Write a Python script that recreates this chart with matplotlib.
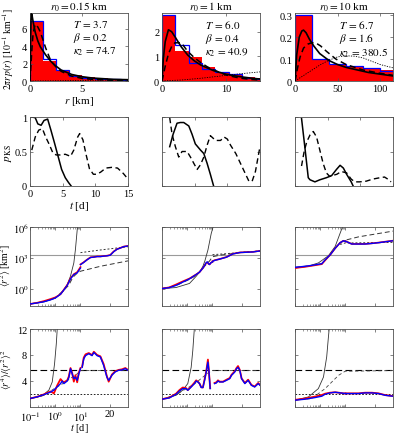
import numpy as np
import matplotlib
matplotlib.use('Agg')
import matplotlib.pyplot as plt
from matplotlib.ticker import FixedLocator, NullFormatter, FixedFormatter

plt.rcParams['font.family'] = ['Liberation Serif', 'DejaVu Serif']
plt.rcParams['mathtext.fontset'] = 'stix'
plt.rcParams['font.size'] = 7.5

# ---------------- data: row 1 (histograms of 2 pi r p(r)) ----------------
titles = ["$r_0 = 0.15$ km", "$r_0 = 1$ km", "$r_0 = 10$ km"]
param_T = ["3.7", "6.0", "6.7"]
param_beta = ["0.2", "0.4", "1.6"]
param_kappa = ["74.7", "40.9", "380.5"]

h1_edges = [0, 1.25, 2.5, 3.75, 5, 6.25, 7.5, 8.75, 10]
h1_red = [6.8, 2.3, 1.2, 0.67, 0.49, 0.30, 0.26, 0.19]
h1_blue = [6.9, 2.5, 1.27, 0.56, 0.37, 0.26, 0.19, 0.15]
h1_r_solid = [0, 0.05, 0.1, 0.15, 0.2, 0.3, 0.5, 0.75, 1, 1.5, 2, 2.5, 3, 4, 5, 6, 8, 9.4]
h1_solid = [0, 4.5, 7.0, 7.7, 7.5, 6.8, 5.6, 4.6, 3.9, 3.0, 2.25, 1.7, 1.25, 0.75, 0.49, 0.34, 0.19, 0.15]
h1_r_dash = [0, 0.1, 0.2, 0.3, 0.5, 0.75, 1, 1.5, 2, 2.5, 3, 4, 5, 6, 8, 9.4]
h1_dash = [0, 2.0, 4.0, 5.5, 6.5, 6.2, 5.6, 3.8, 2.3, 1.6, 1.1, 0.56, 0.3, 0.19, 0.07, 0.04]
h1_r_dot = [0, 2, 4, 6, 8, 9.4]
h1_dot = [0, 0.02, 0.05, 0.08, 0.11, 0.13]

h2_edges = [0, 2.07, 4.14, 6.21, 8.28, 10.35, 12.42, 14.49, 16.56]
h2_red = [2.66, 1.22, 0.97, 0.55, 0.34, 0.23, 0.18, 0.12]
h2_blue = [2.66, 1.45, 0.74, 0.48, 0.37, 0.28, 0.12, 0.09]
h2_r_solid = [0, 0.2, 0.5, 1, 1.5, 2, 3, 4, 5, 6, 8, 10, 12, 14, 15.2]
h2_solid = [0, 0.9, 1.6, 2.08, 2.0, 1.8, 1.38, 1.05, 0.82, 0.65, 0.42, 0.27, 0.18, 0.11, 0.08]
h2_r_dash = [0, 0.5, 1, 1.5, 2, 3, 4, 5, 6, 7, 8, 10, 12, 14, 15.2]
h2_dash = [0, 0.6, 1.1, 1.4, 1.55, 1.55, 1.2, 0.95, 0.75, 0.58, 0.45, 0.24, 0.12, 0.06, 0.04]
h2_r_dot = [0, 3, 6, 9, 12, 15.2]
h2_dot = [0, 0.04, 0.11, 0.2, 0.29, 0.37]

h3_edges = [0, 20, 40, 60, 80, 100, 120]
h3_red = [0.295, 0.098, 0.075, 0.07, 0.059, 0.05]
h3_blue = [0.303, 0.101, 0.076, 0.07, 0.059, 0.047]
h3_r_solid = [0, 2, 5, 8, 10, 13, 17, 22, 29, 40, 50, 60, 86, 115]
h3_solid = [0, 0.12, 0.2, 0.228, 0.232, 0.22, 0.19, 0.16, 0.125, 0.093, 0.075, 0.062, 0.039, 0.023]
h3_r_dash = [0, 3, 6, 10, 15, 20, 25, 30, 37, 48, 60, 80, 100, 115]
h3_dash = [0, 0.06, 0.11, 0.15, 0.168, 0.175, 0.172, 0.16, 0.135, 0.1, 0.075, 0.05, 0.035, 0.026]
h3_r_dot = [0, 10, 20, 30, 40, 50, 60, 70, 80, 90, 100, 115]
h3_dot = [0, 0.025, 0.05, 0.075, 0.095, 0.11, 0.115, 0.113, 0.105, 0.09, 0.075, 0.06]

# ---------------- data: row 2 (p_KS) ----------------
ks1_t_solid = [0.27, 0.8, 1.2, 1.7, 2.15, 2.7, 3.2, 3.76, 4.3, 4.84, 5.4, 5.9, 6.3]
ks1_solid = [1.0, 0.99, 0.9, 0.88, 0.95, 0.97, 0.81, 0.62, 0.43, 0.24, 0.12, 0.05, 0.0]
ks1_t_dash = [0.27, 0.8, 1.34, 1.9, 2.4, 2.96, 3.5, 4.0, 4.6, 5.4, 6.2, 6.7, 7.3, 7.6, 8.1,
              8.6, 9.1, 9.7, 10.2, 10.8, 11.6, 12.5, 13.4, 14.3, 15.0]
ks1_dash = [0.52, 0.71, 0.81, 0.83, 0.71, 0.6, 0.48, 0.45, 0.45, 0.46, 0.43, 0.52, 0.71, 0.76, 0.67,
            0.45, 0.25, 0.17, 0.17, 0.2, 0.26, 0.27, 0.26, 0.18, 0.1]

ks2_t_solid = [1.18, 1.7, 2.3, 2.8, 3.33, 4.1, 4.6, 5.1, 5.9, 6.4, 6.9, 7.4, 7.9]
ks2_solid = [0.57, 0.75, 0.91, 0.92, 0.92, 0.87, 0.75, 0.61, 0.52, 0.47, 0.33, 0.17, 0.0]
ks2_t_dash = [1.18, 1.54, 2.05, 2.56, 3.07, 3.84, 4.35, 4.86, 5.38, 5.9, 6.4, 6.9, 7.4, 8.2, 8.96,
              9.5, 10.0, 10.5, 11.3, 12.0, 12.8, 13.3, 13.8, 14.3, 14.8, 15.0]
ks2_dash = [0.99, 0.75, 0.57, 0.42, 0.5, 0.5, 0.42, 0.33, 0.24, 0.31, 0.42, 0.59, 0.73, 0.66, 0.66,
            0.71, 0.68, 0.59, 0.47, 0.33, 0.17, 0.07, 0.07, 0.21, 0.47, 0.57]

ks3_t_solid = [1.0, 1.5, 2.03, 2.3, 3.05, 3.8, 4.8, 5.6, 6.35, 6.9, 7.4, 7.9, 8.6, 8.9]
ks3_solid = [0.98, 0.57, 0.12, 0.09, 0.06, 0.09, 0.12, 0.15, 0.24, 0.3, 0.26, 0.17, 0.06, 0.0]
ks3_t_dash = [1.0, 1.4, 1.8, 2.3, 2.8, 3.3, 3.8, 4.3, 4.8, 5.3, 6.4, 7.1, 7.9, 8.6, 9.15,
              9.9, 10.9, 11.9, 13.0, 13.7, 14.2, 14.7]
ks3_dash = [0.29, 0.5, 0.64, 0.74, 0.79, 0.71, 0.52, 0.33, 0.19, 0.14, 0.17, 0.21, 0.19, 0.1, 0.06,
            0.06, 0.07, 0.1, 0.12, 0.13, 0.1, 0.06]

# ---------------- data: row 3 (<r^2>, values given as log10) ----------------
msd_sat_log = 3.28   # grey horizontal line

m1_t_early = [0.1, 0.195, 0.357, 0.65, 1.03, 1.62, 2.2, 2.98, 4.03, 5.45, 7.4, 10]
m1_blue_early = [-1.5, -1.4, -1.28, -1.1, -0.9, -0.55, -0.13, 0.31, 0.95, 1.37, 1.53, 2.0]
m1_red_early = [-1.5, -1.38, -1.22, -1.02, -0.85, -0.55, -0.1, 0.35, 1.0, 1.4, 1.6, 2.1]
m1_t_late = [10, 11.1, 12.2, 13.4, 14.5, 15.6, 16.7, 17.8, 18.9, 20.0, 21.2, 22.3, 23.4, 24.5, 26]
m1_blue_late = [2.33, 2.55, 2.8, 3.03, 3.06, 3.12, 3.12, 3.16, 3.19, 3.25, 3.6, 3.83, 3.95, 4.08, 4.15]
m1_red_late = [2.36, 2.57, 2.82, 3.05, 3.08, 3.13, 3.13, 3.17, 3.2, 3.27, 3.62, 3.84, 3.96, 4.09, 4.16]
m1_t_exp = [0.1, 0.36, 1.0, 2.0, 3.0, 4.0, 5.45, 6.3, 7.4, 7.7]
m1_exp = [-1.5, -1.3, -0.95, -0.3, 0.4, 1.2, 2.5, 3.8, 5.7, 6.2]
m1_t_dash = [0.1, 0.36, 1.0, 2.0, 3.4, 5.0, 7.4, 10, 16.7, 26]
m1_dash = [-1.5, -1.26, -0.9, -0.25, 0.31, 1.1, 1.5, 1.69, 2.17, 2.7]
m1_t_dot = [10, 16.7, 26]
m1_dot = [3.5, 3.76, 4.08]

m2_t_early = [0.1, 0.196, 0.36, 0.665, 1.23, 2.26, 3.07, 4.17, 5.0, 5.7, 6.3, 7.0, 7.7, 8.5, 9.3, 10]
m2_blue_early = [0.0, 0.09, 0.31, 0.63, 0.95, 1.37, 1.6, 2.0, 2.3, 2.55, 2.6, 2.4, 2.35, 2.5, 2.55, 2.6]
m2_red_early = [0.0, 0.12, 0.4, 0.7, 0.98, 1.38, 1.6, 2.0, 2.3, 2.5, 2.55, 2.4, 2.35, 2.5, 2.55, 2.6]
m2_t_late = [10, 10.7, 12.4, 14.7, 16.9, 19.2, 21.4, 23.7, 26]
m2_blue_late = [2.65, 2.74, 2.87, 3.06, 3.38, 3.51, 3.54, 3.57, 3.67]
m2_red_late = [2.67, 2.76, 2.88, 3.07, 3.39, 3.52, 3.55, 3.58, 3.68]
m2_t_exp = [0.1, 0.36, 1.23, 2.26, 3.07, 4.17, 5.0, 6.6, 8.9, 10.2]
m2_exp = [0.0, 0.1, 0.5, 1.2, 1.6, 2.17, 2.7, 3.76, 5.36, 6.0]
m2_t_dash = [0.1, 0.36, 1.23, 2.26, 4.17, 7.7, 10, 12.4, 19.2, 26]
m2_dash = [0.0, 0.3, 0.9, 1.3, 2.0, 2.7, 3.1, 3.25, 3.5, 3.65]
m2_t_dot = [10, 14.7, 19.2, 26]
m2_dot = [3.3, 3.4, 3.52, 3.66]

m3_t_early = [0.1, 0.25, 0.46, 1.15, 1.56, 2.46, 3.89, 6.14, 8.3, 10]
m3_blue_early = [2.07, 2.17, 2.26, 2.42, 2.8, 3.28, 3.92, 4.47, 4.66, 4.6]
m3_red_early = [2.0, 2.12, 2.22, 2.38, 2.75, 3.28, 3.92, 4.47, 4.66, 4.6]
m3_t_late = [10, 10.45, 12.1, 14.4, 16.6, 18.9, 21.1, 23.4, 26]
m3_blue_late = [4.6, 4.56, 4.34, 4.34, 4.34, 4.4, 4.47, 4.56, 4.66]
m3_red_late = [4.61, 4.57, 4.35, 4.35, 4.35, 4.41, 4.48, 4.57, 4.67]
m3_t_exp = [0.1, 0.3, 0.845, 2.11, 3.89, 6.14, 7.6]
m3_exp = [2.0, 2.15, 2.5, 3.2, 4.1, 5.4, 6.0]
m3_t_dash = [0.1, 0.5, 1.15, 2.46, 3.89, 6.14, 8.3, 10, 14.4, 26]
m3_dash = [2.07, 2.25, 2.4, 3.28, 3.95, 4.45, 4.65, 4.72, 5.04, 5.6]
m3_t_dot = [6.14, 8.3, 10, 12.1, 26]
m3_dot = [4.3, 4.4, 4.45, 4.45, 4.5]

# ---------------- data: row 4 (kurtosis) ----------------
kurt_hi = 5.64
kurt_lo = 2.0

k1_t_early = [0.1, 0.195, 0.357, 0.655, 0.885, 1.19, 1.62, 1.89, 2.2, 2.98, 3.45, 4.03, 4.7, 5.45, 6.3, 7.4, 8.6, 10]
k1_blue_early = [1.3, 1.56, 1.9, 2.3, 2.6, 3.1, 3.6, 4.0, 3.6, 4.0, 4.5, 5.9, 5.1, 4.36, 4.6, 4.1, 5.1, 5.9]
k1_red_early = [1.3, 1.58, 1.95, 2.4, 2.1, 3.3, 4.3, 4.0, 3.8, 4.1, 4.7, 6.0, 5.2, 3.9, 4.9, 3.8, 5.3, 6.0]
k1_t_late = [10.56, 11.1, 11.7, 12.8, 13.9, 14.5, 15.6, 16.7, 17.8, 18.9, 19.5, 20.6, 21.7, 22.8, 24, 25.1, 26]
k1_blue_late = [6.1, 7.4, 7.9, 8.2, 7.9, 8.4, 7.9, 7.7, 6.4, 4.6, 4.1, 4.9, 5.4, 5.64, 5.7, 5.9, 5.64]
k1_red_late = [6.2, 7.6, 8.1, 8.3, 8.0, 8.5, 8.0, 7.8, 6.6, 4.7, 3.9, 5.0, 5.5, 5.7, 5.8, 6.0, 5.7]
k1_t_exp = [0.1, 0.3, 0.56, 0.76, 0.94, 1.1, 1.2, 1.25]
k1_exp = [1.3, 1.7, 2.6, 3.85, 6.66, 9.7, 12, 13]
k1_t_model = [0.1, 0.36, 0.89, 2.0, 4.0, 7.4, 10, 26]
k1_model = [1.3, 1.8, 2.8, 3.6, 4.4, 5.1, 5.6, 5.6]

k2_t_early = [0.1, 0.196, 0.36, 0.49, 0.665, 0.9, 1.05, 1.43, 1.93, 2.26, 2.64, 3.07, 3.57, 4.17, 4.85, 5.66, 6.6, 7.2, 8.1]
k2_blue_early = [1.2, 1.4, 1.96, 2.47, 2.83, 2.83, 2.57, 3.08, 3.6, 4.0, 3.85, 3.6, 3.0, 3.0, 4.1, 5.4, 6.9, 5.6, 2.83]
k2_red_early = [1.2, 1.45, 2.05, 2.6, 3.0, 2.9, 2.6, 3.15, 3.75, 4.1, 3.9, 3.6, 3.05, 3.0, 4.2, 5.5, 7.3, 5.5, 2.9]
k2_t_late = [10.7, 11.3, 11.85, 12.4, 13.55, 14.7, 15.8, 16.4, 17.5, 18.1, 18.6, 19.2, 19.8, 20.9, 22.0, 23.1, 24.2, 25.4, 26]
k2_blue_late = [3.6, 3.7, 4.0, 3.85, 3.85, 4.1, 4.36, 4.87, 5.38, 5.9, 6.1, 5.64, 4.36, 3.6, 4.1, 3.34, 3.08, 3.6, 3.34]
k2_red_late = [3.7, 3.8, 4.1, 3.9, 3.9, 4.2, 4.45, 4.95, 5.5, 6.0, 6.3, 5.7, 4.4, 3.7, 4.2, 3.4, 3.15, 3.7, 3.4]
k2_t_exp = [0.1, 0.36, 0.665, 1.05, 1.43, 1.66, 1.93, 2.0]
k2_exp = [1.2, 1.8, 2.6, 3.6, 6.1, 8.7, 12.3, 13]
k2_t_model = [0.1, 0.36, 0.9, 2.0, 4.17, 7.0, 10, 26]
k2_model = [1.2, 1.9, 2.8, 3.6, 4.6, 5.3, 5.6, 5.6]

k3_t_early = [0.1, 0.25, 0.62, 1.15, 1.56, 2.46, 3.89, 6.14, 8.3, 10]
k3_blue_early = [1.05, 1.2, 1.45, 1.66, 1.96, 2.17, 2.27, 2.17, 2.1, 2.07]
k3_red_early = [1.1, 1.3, 1.6, 1.85, 2.05, 2.2, 2.27, 2.17, 2.1, 2.07]
k3_t_late = [10, 12.1, 14.4, 16.6, 18.9, 21.1, 23.4, 26]
k3_blue_late = [2.07, 2.07, 2.07, 2.17, 2.17, 2.07, 1.8, 1.66]
k3_red_late = [2.1, 2.1, 2.1, 2.2, 2.2, 2.1, 1.83, 1.69]
k3_t_exp = [0.1, 0.34, 0.84, 1.34, 1.8, 2.1, 2.3, 2.4]
k3_exp = [1.05, 1.55, 2.83, 4.6, 7.7, 10.7, 12.3, 13]
k3_t_model = [0.1, 0.46, 1.56, 5.3, 9.7, 26]
k3_model = [1.05, 1.3, 2.83, 4.87, 5.5, 5.6]

time_ticks = [0.1, 1, 10, 20]
time_ticklabels = ["$10^{-1}$", "$10^{0}$", "$10^{1}$", "20"]

# ---------------- layout ----------------
W, H = 395, 435
fig = plt.figure(figsize=(W / 100, H / 100), dpi=100)
cols_x = [30, 162, 295]
col_w = 98
rows_y = [(14, 82), (118, 187), (228, 307), (330, 408)]
FRAME = '#505050'
TICKFS = 7.5


def make_ax(r, c):
    x0 = cols_x[c]
    yt, yb = rows_y[r]
    ax = fig.add_axes([x0 / W, 1 - yb / H, col_w / W, (yb - yt) / H])
    for s in ax.spines.values():
        s.set_color(FRAME)
        s.set_linewidth(0.6)
    ax.tick_params(direction='in', top=True, right=True, length=2.5, width=0.5,
                   color=FRAME, labelsize=TICKFS, pad=2)
    ax.tick_params(which='minor', direction='in', top=True, right=True, length=1.5,
                   width=0.4, color=FRAME)
    return ax


K = 8.5


def t_fwd(t):
    t = np.asarray(t, float)
    tt = np.clip(t, 1e-6, None)
    return np.where(t <= 10, np.log10(tt), 1 + (t - 10) / K)


def t_inv(u):
    u = np.asarray(u, float)
    return np.where(u <= 1, 10 ** np.clip(u, -10, 1), 10 + (u - 1) * K)


def time_axis(ax, labels):
    ax.set_xscale('function', functions=(t_fwd, t_inv))
    ax.set_xlim(0.1, 26)
    ax.xaxis.set_major_locator(FixedLocator(time_ticks))
    minors = [0.2, 0.3, 0.4, 0.5, 0.6, 0.7, 0.8, 0.9, 2, 3, 4, 5, 6, 7, 8, 9]
    ax.xaxis.set_minor_locator(FixedLocator(minors))
    ax.xaxis.set_minor_formatter(NullFormatter())
    if labels:
        ax.xaxis.set_major_formatter(FixedFormatter(time_ticklabels))
    else:
        ax.xaxis.set_major_formatter(NullFormatter())


# ---------------- row 1 ----------------
hist_sets = [
    (h1_edges, h1_red, h1_blue, h1_r_solid, h1_solid, h1_r_dash, h1_dash, h1_r_dot, h1_dot,
     (0, 9.4), (0, 7.8), [0, 5], [0, 2, 4, 6], ["0", "5"], ["0", "2", "4", "6"]),
    (h2_edges, h2_red, h2_blue, h2_r_solid, h2_solid, h2_r_dash, h2_dash, h2_r_dot, h2_dot,
     (0, 15.2), (0, 2.76), [0, 10], [0, 1, 2], ["0", "10"], ["0", "1", "2"]),
    (h3_edges, h3_red, h3_blue, h3_r_solid, h3_solid, h3_r_dash, h3_dash, h3_r_dot, h3_dot,
     (0, 115), (0, 0.31), [0, 50, 100], [0, 0.1, 0.2, 0.3], ["0", "50", "100"], ["0", "0.1", "0.2", "0.3"]),
]
text_x = [0.44, 0.44, 0.45]
for c, hs in enumerate(hist_sets):
    (edges, red, blue, rs, sol, rd, das, rdo, dot, xl, yl, xt, yt, xtl, ytl) = hs
    ax = make_ax(0, c)
    edges = np.asarray(edges)
    ax.bar(edges[:-1], red, width=np.diff(edges), align='edge', color='#ff0000',
           edgecolor='none', zorder=1)
    ax.stairs(blue, edges, color='#0000ff', lw=0.9, zorder=2)
    ax.plot(rdo, dot, color='black', lw=0.6, ls=(0, (1.5, 1.5)), zorder=3)
    ax.plot(rd, das, color='black', lw=1.1, ls=(0, (4, 2.5)), zorder=4)
    ax.plot(rs, sol, color='black', lw=1.2, zorder=5)
    ax.set_xlim(*xl)
    ax.set_ylim(*yl)
    ax.set_xticks(xt)
    ax.set_xticklabels(xtl)
    ax.set_yticks(yt)
    ax.set_yticklabels(ytl)
    ax.set_title(titles[c], fontsize=8, pad=2)
    ax.text(text_x[c], 0.92, "$T\\,=\\,%s$\n$\\beta\\,=\\,%s$\n$\\kappa_2\\,=\\,%s$"
            % (param_T[c], param_beta[c], param_kappa[c]),
            transform=ax.transAxes, va='top', ha='left', fontsize=8, linespacing=1.05)
    if c == 0:
        ax.set_xlabel("$r$ [km]", labelpad=1, fontsize=8)

fig.text(8 / W, 1 - 49 / H, r"$2\pi r\,p(r)$ [$10^{-1}$ km$^{-1}$]", rotation=90,
         ha='center', va='center', fontsize=7)

# ---------------- row 2 ----------------
ks_sets = [(ks1_t_solid, ks1_solid, ks1_t_dash, ks1_dash),
           (ks2_t_solid, ks2_solid, ks2_t_dash, ks2_dash),
           (ks3_t_solid, ks3_solid, ks3_t_dash, ks3_dash)]
for c, (ts, s, td, d) in enumerate(ks_sets):
    ax = make_ax(1, c)
    ax.plot(td, d, color='black', lw=1.0, ls=(0, (4, 2.5)))
    ax.plot(ts, s, color='black', lw=1.1)
    ax.set_xlim(0, 15)
    ax.set_ylim(0, 1)
    ax.set_xticks([0, 5, 10, 15])
    ax.set_yticks([0, 0.5, 1])
    if c == 0:
        ax.set_xticklabels(["0", "5", "10", "15"])
        ax.set_yticklabels(["0", "0.5", "1"])
        ax.set_xlabel("$t$ [d]", labelpad=1, fontsize=8)
    else:
        ax.set_xticklabels([])
        ax.set_yticklabels([])
fig.text(8 / W, 1 - 153 / H, r"$p_{\mathrm{KS}}$", rotation=90,
         ha='center', va='center', fontsize=8)

# ---------------- row 3 ----------------
m_sets = [
    (m1_t_early, m1_blue_early, m1_red_early, m1_t_late, m1_blue_late, m1_red_late,
     m1_t_exp, m1_exp, m1_t_dash, m1_dash, m1_t_dot, m1_dot),
    (m2_t_early, m2_blue_early, m2_red_early, m2_t_late, m2_blue_late, m2_red_late,
     m2_t_exp, m2_exp, m2_t_dash, m2_dash, m2_t_dot, m2_dot),
    (m3_t_early, m3_blue_early, m3_red_early, m3_t_late, m3_blue_late, m3_red_late,
     m3_t_exp, m3_exp, m3_t_dash, m3_dash, m3_t_dot, m3_dot),
]
for c, ms in enumerate(m_sets):
    (te, be, re_, tl, bl, rl, tx, ex, tdsh, dsh, tdo, do) = ms
    ax = make_ax(2, c)
    p = lambda a: 10 ** np.asarray(a, float)
    ax.set_yscale('log')
    time_axis(ax, False)
    ax.tick_params(axis='y', pad=1)
    ax.axhline(10 ** msd_sat_log, color='#9a9a9a', lw=0.8, zorder=1)
    ax.plot(tx, p(ex), color='#333333', lw=0.6, zorder=2)
    ax.plot(tdsh, p(dsh), color='#333333', lw=0.7, ls=(0, (5, 3)), zorder=2)
    ax.plot(tdo, p(do), color='#333333', lw=0.7, ls=(0, (2, 2)), zorder=2)
    ax.plot(te, p(re_), color='#ff0000', lw=1.2, zorder=3)
    ax.plot(tl, p(rl), color='#ff0000', lw=1.2, zorder=3)
    ax.plot(te, p(be), color='#0000ff', lw=1.0, zorder=4)
    ax.plot(tl, p(bl), color='#0000ff', lw=1.0, zorder=4)
    ax.set_ylim(0.02, 1e6)
    ax.yaxis.set_major_locator(FixedLocator([1, 1e3, 1e6]))
    ax.yaxis.set_minor_locator(FixedLocator([]))
    if c == 0:
        ax.yaxis.set_major_formatter(FixedFormatter(["$10^{0}$", "$10^{3}$", "$10^{6}$"]))
    else:
        ax.yaxis.set_major_formatter(NullFormatter())
fig.text(6 / W, 1 - 266 / H, r"$\langle r^2\rangle$ [km$^2$]", rotation=90,
         ha='center', va='center', fontsize=7)

# ---------------- row 4 ----------------
k_sets = [
    (k1_t_early, k1_blue_early, k1_red_early, k1_t_late, k1_blue_late, k1_red_late,
     k1_t_exp, k1_exp, k1_t_model, k1_model),
    (k2_t_early, k2_blue_early, k2_red_early, k2_t_late, k2_blue_late, k2_red_late,
     k2_t_exp, k2_exp, k2_t_model, k2_model),
    (k3_t_early, k3_blue_early, k3_red_early, k3_t_late, k3_blue_late, k3_red_late,
     k3_t_exp, k3_exp, k3_t_model, k3_model),
]
for c, ks in enumerate(k_sets):
    (te, be, re_, tl, bl, rl, tx, ex, tm, mo) = ks
    ax = make_ax(3, c)
    time_axis(ax, c == 0)
    ax.tick_params(axis='x', pad=1.5)
    ax.axhline(kurt_hi, color='black', lw=0.8, ls=(0, (6, 3)), zorder=1)
    ax.axhline(kurt_lo, color='black', lw=0.6, ls=(0, (2, 2)), zorder=1)
    ax.plot(tx, ex, color='#333333', lw=0.6, zorder=2)
    ax.plot(tm, mo, color='#444444', lw=0.6, ls=(0, (4, 3)), zorder=2)
    ax.plot(te, re_, color='#ff0000', lw=1.3, zorder=3)
    ax.plot(tl, rl, color='#ff0000', lw=1.3, zorder=3)
    ax.plot(te, be, color='#0000ff', lw=1.0, zorder=4)
    ax.plot(tl, bl, color='#0000ff', lw=1.0, zorder=4)
    ax.set_ylim(0, 12)
    ax.set_yticks([4, 8, 12])
    if c == 0:
        ax.set_yticklabels(["4", "8", "12"])
    else:
        ax.set_yticklabels([])
fig.text(79 / W, 1 - 429 / H, "$t$ [d]", ha='center', va='center', fontsize=7.5)
fig.text(7 / W, 1 - 370 / H, r"$\langle r^4\rangle/\langle r^2\rangle^2$", rotation=90,
         ha='center', va='center', fontsize=7)

fig.savefig('out.png', dpi=100)
